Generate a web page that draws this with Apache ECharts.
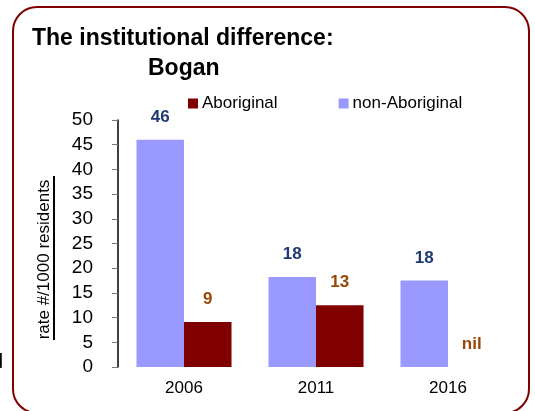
<!DOCTYPE html>
<html>
<head>
<meta charset="utf-8">
<script src="https://cdn.jsdelivr.net/npm/echarts@6/dist/echarts.min.js"></script>
<style>
  html, body { margin: 0; padding: 0; background: #fff; }
  #main { width: 535px; height: 411px; }
</style>
</head>
<body>
<div id="main"></div>
<script>
// data
var years = ['2006', '2011', '2016'];
var nonAboriginal = [46, 18.2, 17.5];
var aboriginal = [9.1, 12.5, 0];
var yTicks = [0, 50, 5]; // min, max, step

var font = 'Arial, "Liberation Sans", sans-serif';

function roundLabel(p) {
    if (p.value === 0) return 'nil';
    return Math.round(p.value);
}

var chart = echarts.init(document.getElementById('main'));

var option = {
    animation: false,
    title: [
        {
            text: 'The institutional difference:',
            left: 32,
            top: 27,
            padding: 0,
            textStyle: { fontFamily: font, fontSize: 23, fontWeight: 'bold', color: '#000' }
        },
        {
            text: 'Bogan',
            left: 148,
            top: 57,
            padding: 0,
            textStyle: { fontFamily: font, fontSize: 23, fontWeight: 'bold', color: '#000' }
        }
    ],
    legend: {
        data: ['Aboriginal', 'non-Aboriginal'],
        left: 188,
        top: 95,
        padding: 0,
        itemWidth: 10,
        itemHeight: 10,
        itemGap: 61,
        icon: 'rect',
        textStyle: { fontFamily: font, fontSize: 17, color: '#000', padding: [0, 0, 0, -1] }
    },
    grid: {
        left: 118,
        right: 21,
        top: 120,
        bottom: 44
    },
    xAxis: {
        type: 'category',
        data: years,
        axisLine: { show: false },
        axisTick: { show: false },
        axisLabel: { fontFamily: font, fontSize: 17, color: '#000', margin: 13 }
    },
    yAxis: {
        type: 'value',
        min: yTicks[0],
        max: yTicks[1],
        interval: yTicks[2],
        name: 'rate #/1000 residents',
        nameLocation: 'middle',
        nameGap: 65,
        nameRotate: 90,
        nameTextStyle: { fontFamily: font, fontSize: 17, color: '#000', padding: [0, 32, 0, 0] },
        axisLine: { show: true, lineStyle: { color: '#000', width: 1.5 } },
        axisTick: { show: true, length: 6, lineStyle: { color: '#777' } },
        axisLabel: { fontFamily: font, fontSize: 19, color: '#000', margin: 25 },
        splitLine: { show: false }
    },
    series: [
        {
            name: 'non-Aboriginal',
            type: 'bar',
            data: nonAboriginal,
            barGap: '0%',
            barCategoryGap: '28%',
            itemStyle: { color: '#9999FF' },
            label: {
                show: true,
                position: 'top',
                distance: 14,
                formatter: roundLabel,
                fontFamily: font,
                fontSize: 17,
                fontWeight: 'bold',
                color: '#1F3A73'
            }
        },
        {
            name: 'Aboriginal',
            type: 'bar',
            data: aboriginal,
            itemStyle: { color: '#800000' },
            label: {
                show: true,
                position: 'top',
                distance: 14,
                formatter: roundLabel,
                fontFamily: font,
                fontSize: 17,
                fontWeight: 'bold',
                color: '#974706'
            }
        }
    ],
    graphic: [
        {
            type: 'rect',
            shape: { x: 13, y: 7, width: 516, height: 406, r: 24 },
            style: { fill: null, stroke: '#800000', lineWidth: 2 },
            silent: true,
            z: -1
        },
        {
            // underline of the axis title
            type: 'line',
            shape: { x1: 54, y1: 176, x2: 54, y2: 340 },
            style: { stroke: '#000', lineWidth: 2 },
            silent: true
        },
        {
            // cut-off letter at the left edge
            type: 'text',
            x: -8,
            y: 352,
            style: { text: 'd', fontFamily: font, fontSize: 20, fill: '#000' },
            silent: true
        }
    ]
};

chart.setOption(option);
</script>
</body>
</html>
